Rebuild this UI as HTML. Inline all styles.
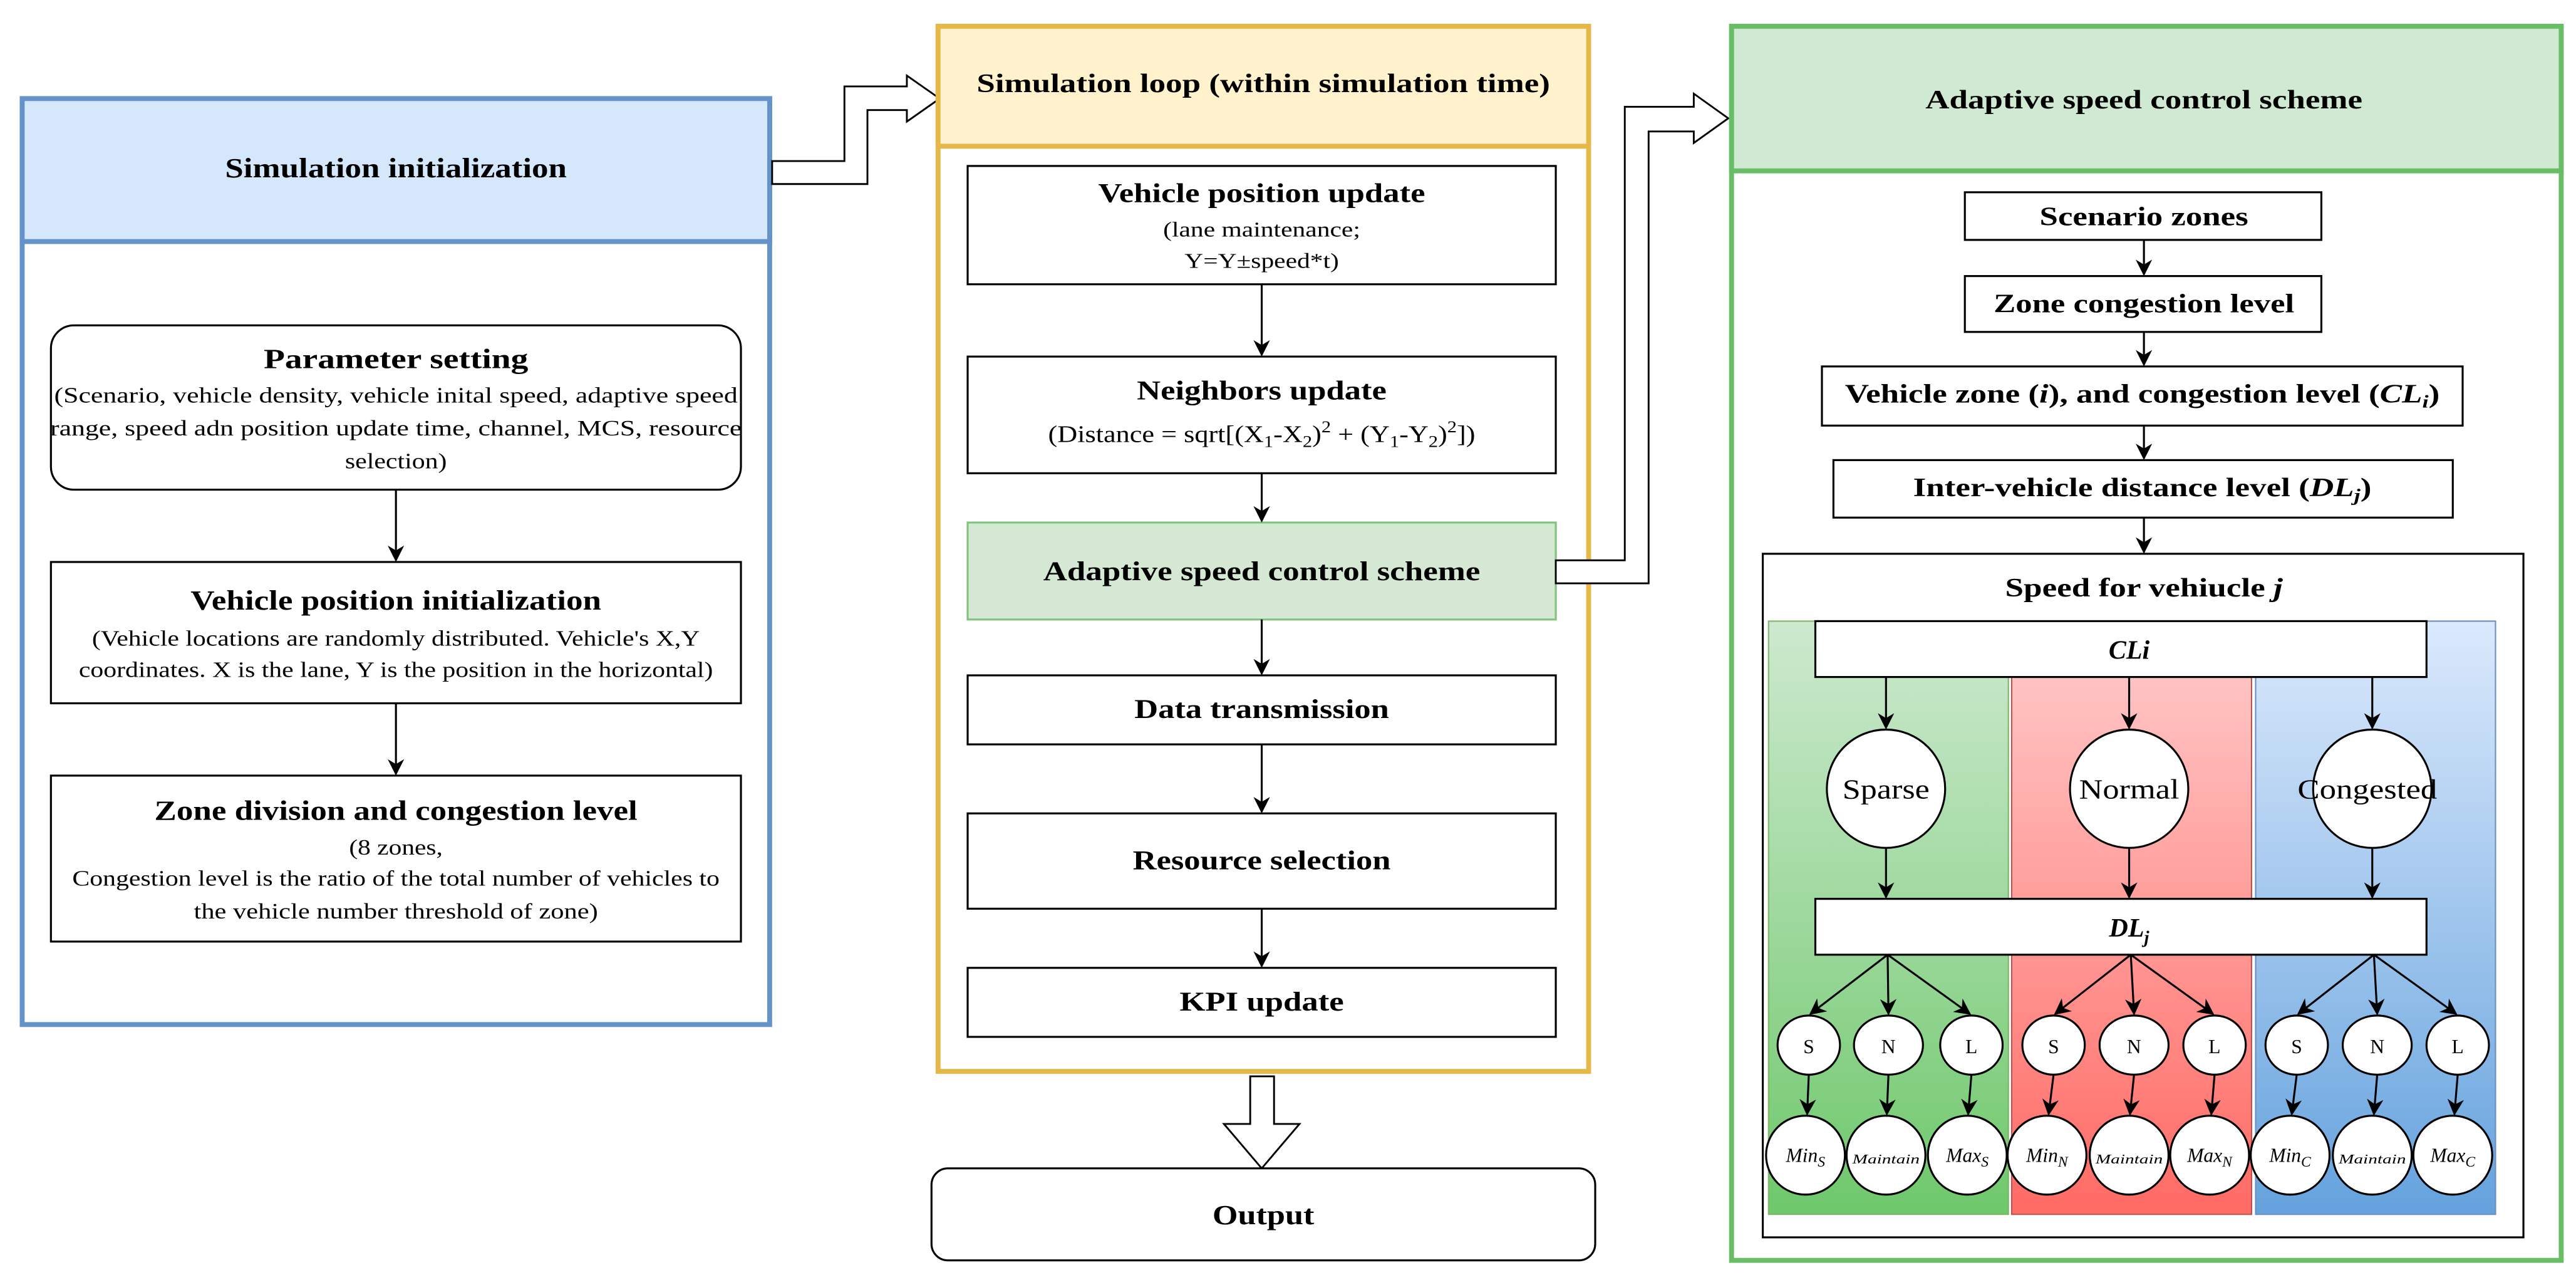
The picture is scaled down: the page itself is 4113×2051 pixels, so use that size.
<!DOCTYPE html>
<html><head><meta charset="utf-8"><style>
html,body{margin:0;padding:0;background:#fff}
svg{display:block}
text{font-family:"Liberation Serif",serif;fill:#000}
</style></head><body>
<svg width="4113" height="2051" viewBox="0 0 1568 782" preserveAspectRatio="none" xmlns="http://www.w3.org/2000/svg">
<defs>
<marker id="ah" viewBox="0 0 10 10" refX="9" refY="5" markerWidth="10" markerHeight="10" markerUnits="userSpaceOnUse" orient="auto"><path d="M0,0 L10,5 L0,10 L3,5 z" fill="#000"/></marker>
<linearGradient id="gg" x1="0" y1="0" x2="0" y2="1"><stop offset="0" stop-color="#cde9cf"/><stop offset="1" stop-color="#6ec86b"/></linearGradient>
<linearGradient id="gr" x1="0" y1="0" x2="0" y2="1"><stop offset="0" stop-color="#ffcccc"/><stop offset="1" stop-color="#ff6a64"/></linearGradient>
<linearGradient id="gb" x1="0" y1="0" x2="0" y2="1"><stop offset="0" stop-color="#dbe9fc"/><stop offset="1" stop-color="#64a2dd"/></linearGradient>
</defs>
<rect width="1568" height="782" fill="#fff"/>

<!-- LEFT PANEL -->
<rect x="13.5" y="60" width="455" height="563.5" fill="#fff" stroke="#6493c9" stroke-width="3"/>
<rect x="13.5" y="60" width="455" height="87" fill="#d5e7fb" stroke="#6493c9" stroke-width="3"/>
<text x="241" y="108" font-size="17" font-weight="bold" text-anchor="middle" textLength="208" lengthAdjust="spacingAndGlyphs">Simulation initialization</text>

<rect x="31" y="198" width="420" height="100" rx="14" fill="#fff" stroke="#000" stroke-width="1.2"/>
<text x="241" y="224" font-size="17" font-weight="bold" text-anchor="middle" textLength="161" lengthAdjust="spacingAndGlyphs">Parameter setting</text>
<text x="241" y="245" font-size="13.5" text-anchor="middle" textLength="416" lengthAdjust="spacingAndGlyphs">(Scenario, vehicle density, vehicle inital speed, adaptive speed</text>
<text x="241" y="265" font-size="13.5" text-anchor="middle" textLength="421" lengthAdjust="spacingAndGlyphs">range, speed adn position update time, channel, MCS, resource</text>
<text x="241" y="285" font-size="13.5" text-anchor="middle" textLength="62" lengthAdjust="spacingAndGlyphs">selection)</text>

<rect x="31" y="342" width="420" height="86" fill="#fff" stroke="#000" stroke-width="1.2"/>
<text x="241" y="371" font-size="17" font-weight="bold" text-anchor="middle" textLength="250" lengthAdjust="spacingAndGlyphs">Vehicle position initialization</text>
<text x="241" y="393" font-size="13.5" text-anchor="middle" textLength="370" lengthAdjust="spacingAndGlyphs">(Vehicle locations are randomly distributed. Vehicle's X,Y</text>
<text x="241" y="412" font-size="13.5" text-anchor="middle" textLength="386" lengthAdjust="spacingAndGlyphs">coordinates. X is the lane, Y is the position in the horizontal)</text>

<rect x="31" y="472" width="420" height="101" fill="#fff" stroke="#000" stroke-width="1.2"/>
<text x="241" y="499" font-size="17" font-weight="bold" text-anchor="middle" textLength="294" lengthAdjust="spacingAndGlyphs">Zone division and congestion level</text>
<text x="241" y="520" font-size="13.5" text-anchor="middle" textLength="57" lengthAdjust="spacingAndGlyphs">(8 zones,</text>
<text x="241" y="539" font-size="13.5" text-anchor="middle" textLength="394" lengthAdjust="spacingAndGlyphs">Congestion level is the ratio of the total number of vehicles to</text>
<text x="241" y="559" font-size="13.5" text-anchor="middle" textLength="246" lengthAdjust="spacingAndGlyphs">the vehicle  number threshold of zone)</text>

<line x1="241" y1="298" x2="241" y2="341" stroke="#000" stroke-width="1.2" marker-end="url(#ah)"/>
<line x1="241" y1="428" x2="241" y2="471" stroke="#000" stroke-width="1.2" marker-end="url(#ah)"/>

<path d="M470,98 L514,98 L514,52.6 L552,52.6 L552,46 L572,60 L552,74 L552,67 L528,67 L528,112 L470,112 Z" fill="#fff" stroke="#000" stroke-width="1.1"/>

<!-- MIDDLE PANEL -->
<rect x="571" y="16" width="396" height="636" fill="#fff" stroke="#e6b84a" stroke-width="3"/>
<rect x="571" y="16" width="396" height="73" fill="#fff2cc" stroke="#e6b84a" stroke-width="3"/>
<text x="769" y="56" font-size="16" font-weight="bold" text-anchor="middle" textLength="349" lengthAdjust="spacingAndGlyphs">Simulation loop (within simulation time)</text>

<rect x="589" y="101" width="358" height="72" fill="#fff" stroke="#000" stroke-width="1.2"/>
<text x="768" y="123" font-size="16.5" font-weight="bold" text-anchor="middle" textLength="199" lengthAdjust="spacingAndGlyphs">Vehicle position update</text>
<text x="768" y="144" font-size="13" text-anchor="middle" textLength="120" lengthAdjust="spacingAndGlyphs">(lane maintenance;</text>
<text x="768" y="163" font-size="13" text-anchor="middle" textLength="94" lengthAdjust="spacingAndGlyphs">Y=Y±speed*t)</text>

<rect x="589" y="217" width="358" height="71" fill="#fff" stroke="#000" stroke-width="1.2"/>
<text x="768" y="243" font-size="16.5" font-weight="bold" text-anchor="middle" textLength="152" lengthAdjust="spacingAndGlyphs">Neighbors update</text>
<text x="768" y="269" font-size="14.5" text-anchor="middle" textLength="260" lengthAdjust="spacingAndGlyphs">(Distance = sqrt[(X<tspan font-size="10" dy="3">1</tspan><tspan dy="-3">-X</tspan><tspan font-size="10" dy="3">2</tspan><tspan dy="-3">)</tspan><tspan font-size="10" dy="-6">2</tspan><tspan dy="6"> + (Y</tspan><tspan font-size="10" dy="3">1</tspan><tspan dy="-3">-Y</tspan><tspan font-size="10" dy="3">2</tspan><tspan dy="-3">)</tspan><tspan font-size="10" dy="-6">2</tspan><tspan dy="6">])</tspan></text>

<rect x="589" y="318" width="358" height="59" fill="#d5e8d4" stroke="#82c27f" stroke-width="1.2"/>
<text x="768" y="353" font-size="16.5" font-weight="bold" text-anchor="middle" textLength="266" lengthAdjust="spacingAndGlyphs">Adaptive speed control scheme</text>

<rect x="589" y="411" width="358" height="42" fill="#fff" stroke="#000" stroke-width="1.2"/>
<text x="768" y="437" font-size="16.5" font-weight="bold" text-anchor="middle" textLength="155" lengthAdjust="spacingAndGlyphs">Data transmission</text>

<rect x="589" y="495" width="358" height="58" fill="#fff" stroke="#000" stroke-width="1.2"/>
<text x="768" y="529" font-size="16.5" font-weight="bold" text-anchor="middle" textLength="157" lengthAdjust="spacingAndGlyphs">Resource selection</text>

<rect x="589" y="589" width="358" height="42" fill="#fff" stroke="#000" stroke-width="1.2"/>
<text x="768" y="615" font-size="16.5" font-weight="bold" text-anchor="middle" textLength="100" lengthAdjust="spacingAndGlyphs">KPI update</text>

<line x1="768" y1="173" x2="768" y2="216" stroke="#000" stroke-width="1.2" marker-end="url(#ah)"/>
<line x1="768" y1="288" x2="768" y2="317" stroke="#000" stroke-width="1.2" marker-end="url(#ah)"/>
<line x1="768" y1="377" x2="768" y2="410" stroke="#000" stroke-width="1.2" marker-end="url(#ah)"/>
<line x1="768" y1="453" x2="768" y2="494" stroke="#000" stroke-width="1.2" marker-end="url(#ah)"/>
<line x1="768" y1="553" x2="768" y2="588" stroke="#000" stroke-width="1.2" marker-end="url(#ah)"/>

<path d="M761,655 L775.5,655 L775.5,684 L791,684 L768,711 L745,684 L761,684 Z" fill="#fff" stroke="#000" stroke-width="1.1"/>
<rect x="567" y="711" width="404" height="56" rx="10" fill="#fff" stroke="#000" stroke-width="1.2"/>
<text x="769" y="745" font-size="17" font-weight="bold" text-anchor="middle" textLength="62" lengthAdjust="spacingAndGlyphs">Output</text>

<path d="M947,341 L989,341 L989,65 L1031,65 L1031,57 L1052,72 L1031,87 L1031,80 L1003.5,80 L1003.5,355 L947,355 Z" fill="#fff" stroke="#000" stroke-width="1.1"/>

<!-- RIGHT PANEL -->
<rect x="1054" y="16" width="505" height="751" fill="#fff" stroke="#6abd67" stroke-width="3"/>
<rect x="1054" y="16" width="505" height="88" fill="#d0e9d2" stroke="#6abd67" stroke-width="3"/>
<text x="1305" y="66" font-size="16" font-weight="bold" text-anchor="middle" textLength="266" lengthAdjust="spacingAndGlyphs">Adaptive speed control scheme</text>

<rect x="1196" y="117" width="217" height="29" fill="#fff" stroke="#000" stroke-width="1.2"/>
<text x="1305" y="137" font-size="16" font-weight="bold" text-anchor="middle" textLength="127" lengthAdjust="spacingAndGlyphs">Scenario zones</text>
<rect x="1196" y="168" width="217" height="34" fill="#fff" stroke="#000" stroke-width="1.2"/>
<text x="1305" y="190" font-size="16" font-weight="bold" text-anchor="middle" textLength="183" lengthAdjust="spacingAndGlyphs">Zone congestion level</text>
<rect x="1109" y="223" width="390" height="36" fill="#fff" stroke="#000" stroke-width="1.2"/>
<text x="1304" y="245" font-size="16" font-weight="bold" text-anchor="middle" textLength="362" lengthAdjust="spacingAndGlyphs">Vehicle zone (<tspan font-style="italic">i</tspan>), and congestion level (<tspan font-style="italic">CL</tspan><tspan font-style="italic" font-size="11" dy="3">i</tspan><tspan dy="-3">)</tspan></text>
<rect x="1116" y="280" width="377" height="35" fill="#fff" stroke="#000" stroke-width="1.2"/>
<text x="1304" y="302" font-size="16" font-weight="bold" text-anchor="middle" textLength="279" lengthAdjust="spacingAndGlyphs">Inter-vehicle distance level (<tspan font-style="italic">DL</tspan><tspan font-style="italic" font-size="11" dy="3">j</tspan><tspan dy="-3">)</tspan></text>

<line x1="1305" y1="146" x2="1305" y2="167" stroke="#000" stroke-width="1.2" marker-end="url(#ah)"/>
<line x1="1305" y1="202" x2="1305" y2="222" stroke="#000" stroke-width="1.2" marker-end="url(#ah)"/>
<line x1="1305" y1="259" x2="1305" y2="279" stroke="#000" stroke-width="1.2" marker-end="url(#ah)"/>
<line x1="1305" y1="315" x2="1305" y2="336" stroke="#000" stroke-width="1.2" marker-end="url(#ah)"/>

<rect x="1073" y="337" width="463" height="416" fill="#fff" stroke="#000" stroke-width="1.2"/>
<text x="1305" y="363" font-size="16" font-weight="bold" text-anchor="middle" textLength="169" lengthAdjust="spacingAndGlyphs">Speed for vehiucle <tspan font-style="italic">j</tspan></text>

<rect x="1076.5" y="378" width="146" height="361" fill="url(#gg)" stroke="#82b366" stroke-width="0.8"/>
<rect x="1224.5" y="378" width="146" height="361" fill="url(#gr)" stroke="#b85450" stroke-width="0.8"/>
<rect x="1373" y="378" width="146" height="361" fill="url(#gb)" stroke="#6c8ebf" stroke-width="0.8"/>

<rect x="1105" y="378" width="372" height="34" fill="#fff" stroke="#000" stroke-width="1.2"/>
<text x="1296" y="401" font-size="16" font-weight="bold" font-style="italic" text-anchor="middle">CLi</text>

<line x1="1148" y1="412" x2="1148" y2="443" stroke="#000" stroke-width="1.2" marker-end="url(#ah)"/>
<line x1="1296" y1="412" x2="1296" y2="443" stroke="#000" stroke-width="1.2" marker-end="url(#ah)"/>
<line x1="1444" y1="412" x2="1444" y2="443" stroke="#000" stroke-width="1.2" marker-end="url(#ah)"/>

<circle cx="1148" cy="480" r="36" fill="#fff" stroke="#000" stroke-width="1.2"/>
<circle cx="1296" cy="480" r="36" fill="#fff" stroke="#000" stroke-width="1.2"/>
<circle cx="1444" cy="480" r="36" fill="#fff" stroke="#000" stroke-width="1.2"/>
<text x="1148" y="486" font-size="17" text-anchor="middle" textLength="53" lengthAdjust="spacingAndGlyphs">Sparse</text>
<text x="1296" y="486" font-size="17" text-anchor="middle" textLength="61" lengthAdjust="spacingAndGlyphs">Normal</text>
<text x="1441" y="486" font-size="17" text-anchor="middle" textLength="85" lengthAdjust="spacingAndGlyphs">Congested</text>

<line x1="1148" y1="516" x2="1148" y2="546" stroke="#000" stroke-width="1.2" marker-end="url(#ah)"/>
<line x1="1296" y1="516" x2="1296" y2="546" stroke="#000" stroke-width="1.2" marker-end="url(#ah)"/>
<line x1="1444" y1="516" x2="1444" y2="546" stroke="#000" stroke-width="1.2" marker-end="url(#ah)"/>

<rect x="1105" y="547" width="372" height="34" fill="#fff" stroke="#000" stroke-width="1.2"/>
<text x="1296" y="570" font-size="16" font-weight="bold" font-style="italic" text-anchor="middle">DL<tspan font-size="11" dy="4">j</tspan></text>

<g stroke="#000" stroke-width="1.2" fill="none">
<line x1="1149" y1="581" x2="1102" y2="617" marker-end="url(#ah)"/>
<line x1="1149" y1="581" x2="1149.5" y2="617" marker-end="url(#ah)"/>
<line x1="1149" y1="581" x2="1199" y2="617" marker-end="url(#ah)"/>
<line x1="1297" y1="581" x2="1251" y2="617" marker-end="url(#ah)"/>
<line x1="1297" y1="581" x2="1299" y2="617" marker-end="url(#ah)"/>
<line x1="1297" y1="581" x2="1347" y2="617" marker-end="url(#ah)"/>
<line x1="1445" y1="581" x2="1399" y2="617" marker-end="url(#ah)"/>
<line x1="1445" y1="581" x2="1447" y2="617" marker-end="url(#ah)"/>
<line x1="1445" y1="581" x2="1495" y2="617" marker-end="url(#ah)"/>

<line x1="1101" y1="654" x2="1100" y2="678" marker-end="url(#ah)"/>
<line x1="1149.5" y1="654" x2="1148.5" y2="678" marker-end="url(#ah)"/>
<line x1="1200" y1="654" x2="1198" y2="678" marker-end="url(#ah)"/>
<line x1="1250" y1="654" x2="1247" y2="678" marker-end="url(#ah)"/>
<line x1="1299" y1="654" x2="1296.5" y2="678" marker-end="url(#ah)"/>
<line x1="1348" y1="654" x2="1346" y2="678" marker-end="url(#ah)"/>
<line x1="1398" y1="654" x2="1395" y2="678" marker-end="url(#ah)"/>
<line x1="1447" y1="654" x2="1445" y2="678" marker-end="url(#ah)"/>
<line x1="1496" y1="654" x2="1494" y2="678" marker-end="url(#ah)"/>
</g>

<g fill="#fff" stroke="#000" stroke-width="1.2">
<ellipse cx="1101" cy="636" rx="19" ry="18"/><ellipse cx="1149.5" cy="636" rx="21" ry="18"/><ellipse cx="1200" cy="636" rx="19" ry="18"/>
<ellipse cx="1250" cy="636" rx="19" ry="18"/><ellipse cx="1299" cy="636" rx="21" ry="18"/><ellipse cx="1348" cy="636" rx="19" ry="18"/>
<ellipse cx="1398" cy="636" rx="19" ry="18"/><ellipse cx="1447" cy="636" rx="21" ry="18"/><ellipse cx="1496" cy="636" rx="19" ry="18"/>
<ellipse cx="1099" cy="703" rx="24" ry="24"/><ellipse cx="1148" cy="703" rx="24" ry="24"/><ellipse cx="1197.5" cy="703" rx="24" ry="24"/>
<ellipse cx="1246" cy="703" rx="24" ry="24"/><ellipse cx="1296" cy="703" rx="24" ry="24"/><ellipse cx="1345" cy="703" rx="24" ry="24"/>
<ellipse cx="1394" cy="703" rx="24" ry="24"/><ellipse cx="1444" cy="703" rx="24" ry="24"/><ellipse cx="1493" cy="703" rx="24" ry="24"/>
</g>
<g font-size="12" text-anchor="middle">
<text x="1101" y="641">S</text><text x="1149.5" y="641">N</text><text x="1200" y="641">L</text>
<text x="1250" y="641">S</text><text x="1299" y="641">N</text><text x="1348" y="641">L</text>
<text x="1398" y="641">S</text><text x="1447" y="641">N</text><text x="1496" y="641">L</text>
</g>
<g font-size="12" font-style="italic" text-anchor="middle">
<text x="1099" y="707">Min<tspan font-size="9" dy="3">S</tspan></text>
<text x="1148" y="708" font-size="8" textLength="41" lengthAdjust="spacingAndGlyphs">Maintain</text>
<text x="1197.5" y="707">Max<tspan font-size="9" dy="3">S</tspan></text>
<text x="1246" y="707">Min<tspan font-size="9" dy="3">N</tspan></text>
<text x="1296" y="708" font-size="8" textLength="41" lengthAdjust="spacingAndGlyphs">Maintain</text>
<text x="1345" y="707">Max<tspan font-size="9" dy="3">N</tspan></text>
<text x="1394" y="707">Min<tspan font-size="9" dy="3">C</tspan></text>
<text x="1444" y="708" font-size="8" textLength="41" lengthAdjust="spacingAndGlyphs">Maintain</text>
<text x="1493" y="707">Max<tspan font-size="9" dy="3">C</tspan></text>
</g>
</svg>
</body></html>
